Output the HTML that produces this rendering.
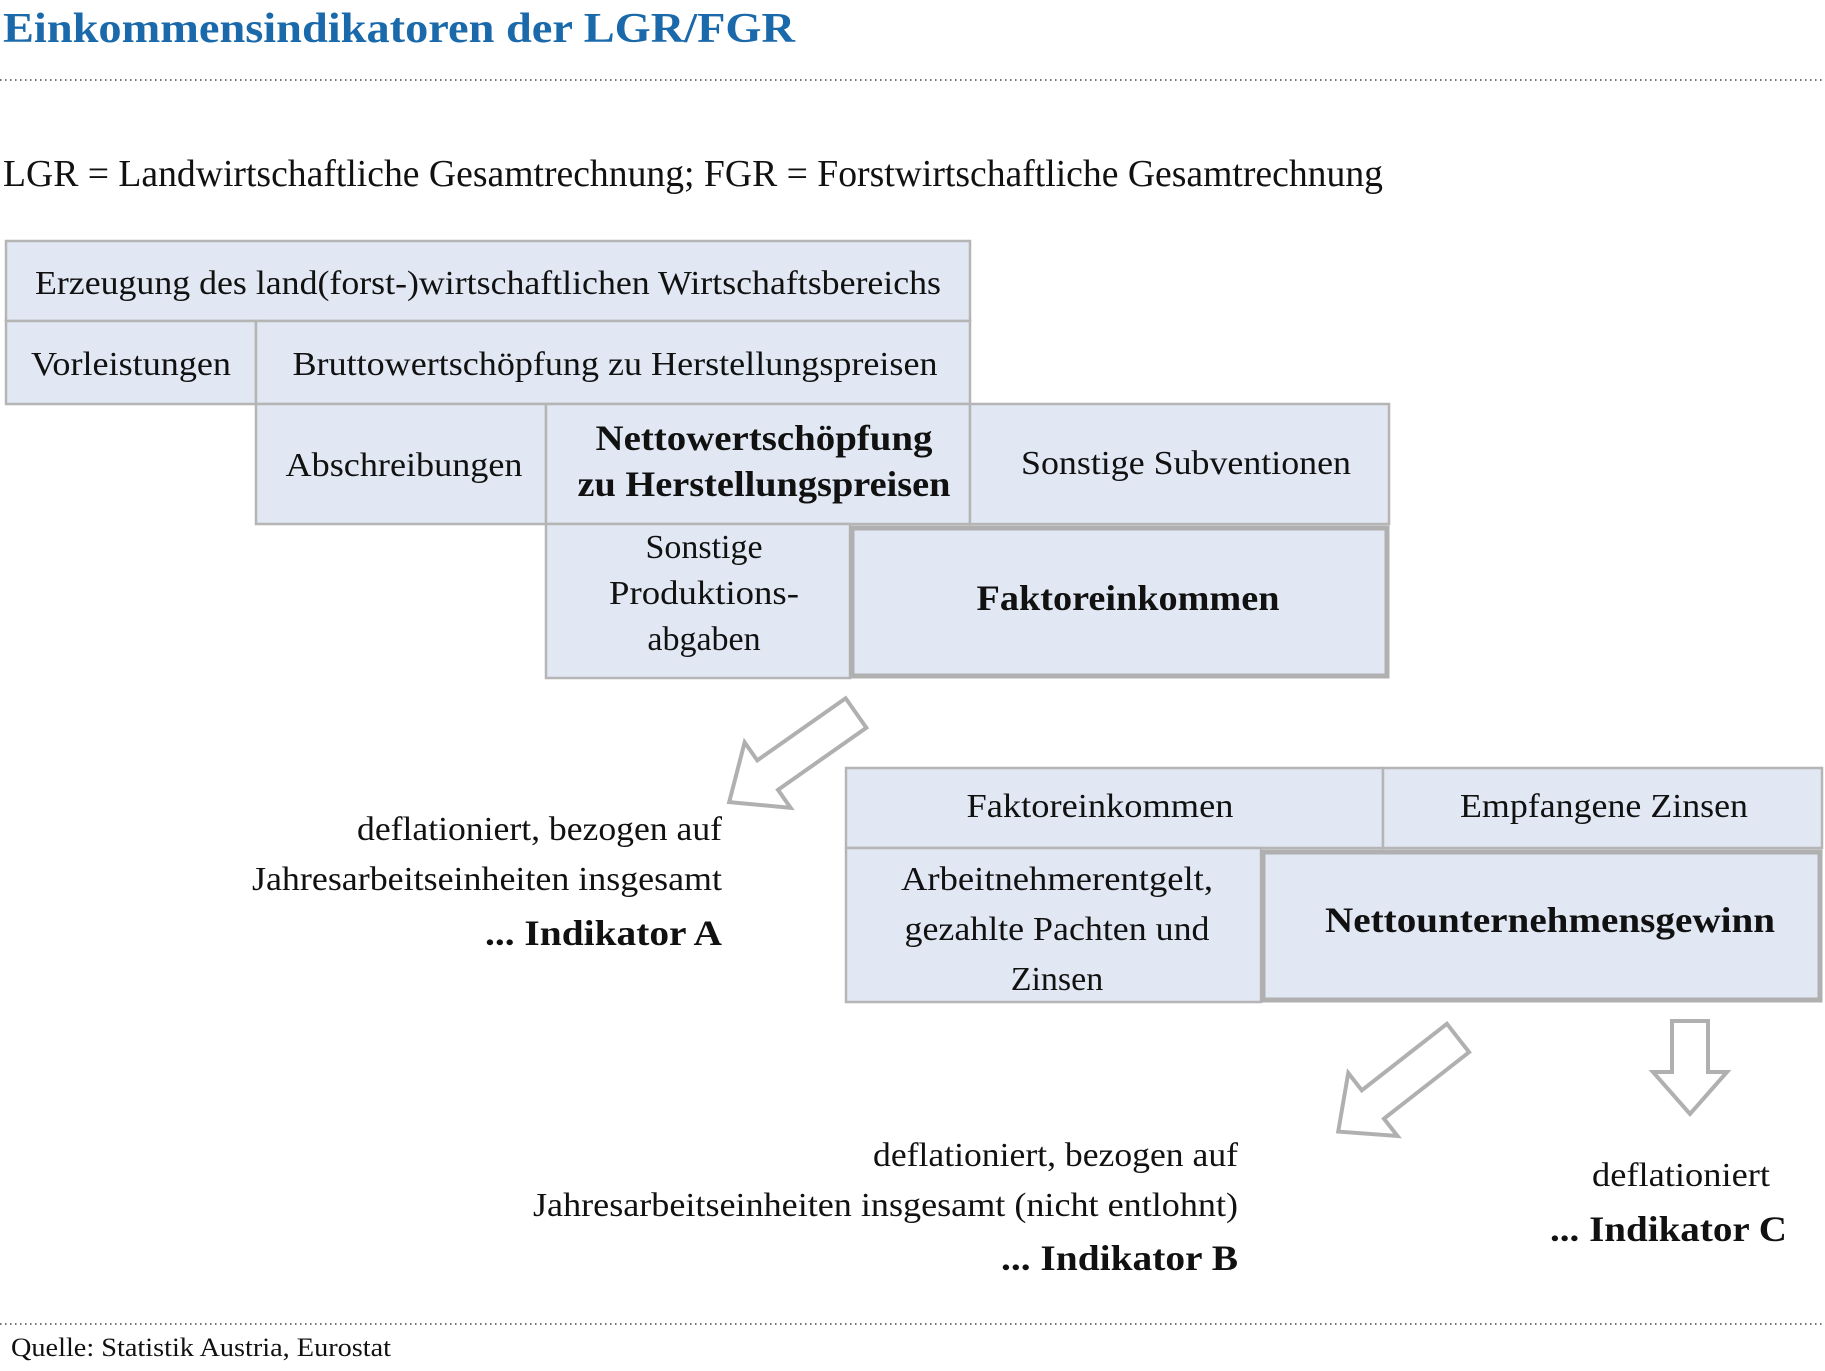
<!DOCTYPE html>
<html><head><meta charset="utf-8"><style>html,body{margin:0;padding:0;background:#fff}svg{display:block}</style></head>
<body>
<svg width="1825" height="1371" viewBox="0 0 1825 1371" xmlns="http://www.w3.org/2000/svg" font-family="'Liberation Serif', serif" fill="#111">
<text x="3" y="42" font-size="42" font-weight="bold" fill="#1a6aab" textLength="792" lengthAdjust="spacingAndGlyphs">Einkommensindikatoren der LGR/FGR</text>
<line x1="0" y1="80" x2="1825" y2="80" stroke="#444" stroke-width="1.5" stroke-dasharray="1.5,3.5"/>
<text x="3" y="186" font-size="38" textLength="1380" lengthAdjust="spacingAndGlyphs">LGR = Landwirtschaftliche Gesamtrechnung; FGR = Forstwirtschaftliche Gesamtrechnung</text>

<g fill="#e1e8f3" stroke="#b5b5b5" stroke-width="2.5">
<rect x="6" y="241" width="964" height="80"/>
<rect x="6" y="321" width="250" height="83"/>
<rect x="256" y="321" width="714" height="83"/>
<rect x="256" y="404" width="290" height="120"/>
<rect x="546" y="404" width="424" height="120"/>
<rect x="970" y="404" width="419" height="120"/>
<rect x="546" y="524" width="304" height="154"/>
<rect x="846" y="768" width="537" height="80"/>
<rect x="1383" y="768" width="439" height="80"/>
<rect x="846" y="848" width="415" height="154"/>
</g>
<g fill="#e1e8f3" stroke="#b0b0b0" stroke-width="5">
<rect x="852" y="528" width="535" height="148"/>
<rect x="1263" y="852" width="557" height="148"/>
</g>

<g font-size="34">
<text x="488" y="294" text-anchor="middle" textLength="906" lengthAdjust="spacingAndGlyphs">Erzeugung des land(forst-)wirtschaftlichen Wirtschaftsbereichs</text>
<text x="131" y="375" text-anchor="middle" textLength="200" lengthAdjust="spacingAndGlyphs">Vorleistungen</text>
<text x="615" y="375" text-anchor="middle" textLength="645" lengthAdjust="spacingAndGlyphs">Bruttowertschöpfung zu Herstellungspreisen</text>
<text x="404" y="476" text-anchor="middle" textLength="237" lengthAdjust="spacingAndGlyphs">Abschreibungen</text>
<text x="1186" y="474" text-anchor="middle" textLength="330" lengthAdjust="spacingAndGlyphs">Sonstige Subventionen</text>
<text x="704" y="558" text-anchor="middle">Sonstige</text>
<text x="704" y="604" text-anchor="middle" textLength="190" lengthAdjust="spacingAndGlyphs">Produktions-</text>
<text x="704" y="650" text-anchor="middle">abgaben</text>
<text x="1100" y="817" text-anchor="middle" textLength="267" lengthAdjust="spacingAndGlyphs">Faktoreinkommen</text>
<text x="1604" y="817" text-anchor="middle" textLength="288" lengthAdjust="spacingAndGlyphs">Empfangene Zinsen</text>
<text x="1057" y="890" text-anchor="middle" textLength="312" lengthAdjust="spacingAndGlyphs">Arbeitnehmerentgelt,</text>
<text x="1057" y="940" text-anchor="middle" textLength="305" lengthAdjust="spacingAndGlyphs">gezahlte Pachten und</text>
<text x="1057" y="990" text-anchor="middle">Zinsen</text>
<text x="722" y="840" text-anchor="end" textLength="365" lengthAdjust="spacingAndGlyphs">deflationiert, bezogen auf</text>
<text x="722" y="890" text-anchor="end" textLength="470" lengthAdjust="spacingAndGlyphs">Jahresarbeitseinheiten insgesamt</text>
<text x="1238" y="1166" text-anchor="end" textLength="365" lengthAdjust="spacingAndGlyphs">deflationiert, bezogen auf</text>
<text x="1238" y="1216" text-anchor="end" textLength="705" lengthAdjust="spacingAndGlyphs">Jahresarbeitseinheiten insgesamt (nicht entlohnt)</text>
<text x="1681" y="1186" text-anchor="middle" textLength="178" lengthAdjust="spacingAndGlyphs">deflationiert</text>
</g>
<g font-size="36" font-weight="bold">
<text x="764" y="450" text-anchor="middle" textLength="337" lengthAdjust="spacingAndGlyphs">Nettowertschöpfung</text>
<text x="764" y="496" text-anchor="middle" textLength="373" lengthAdjust="spacingAndGlyphs">zu Herstellungspreisen</text>
<text x="1128" y="610" text-anchor="middle" textLength="303" lengthAdjust="spacingAndGlyphs">Faktoreinkommen</text>
<text x="1550" y="932" text-anchor="middle" textLength="450" lengthAdjust="spacingAndGlyphs">Nettounternehmensgewinn</text>
<text x="722" y="945" text-anchor="end" textLength="237" lengthAdjust="spacingAndGlyphs">... Indikator A</text>
<text x="1238" y="1270" text-anchor="end" textLength="237" lengthAdjust="spacingAndGlyphs">... Indikator B</text>
<text x="1787" y="1241" text-anchor="end" textLength="237" lengthAdjust="spacingAndGlyphs">... Indikator C</text>
</g>

<g fill="#fff" stroke="#b0b0b0" stroke-width="4" stroke-linejoin="miter">
<polygon transform="translate(1690,1021)" points="-18,0 18,0 18,51 37,51 0,93 -37,51 -18,51"/>
<polygon transform="translate(856,713) rotate(54.9)" points="-18,0 18,0 18,108 40,108 0,155 -40,108 -18,108"/>
<polygon transform="translate(1458,1038) rotate(52)" points="-18,0 18,0 18,108 40,108 0,152 -40,108 -18,108"/>
</g>

<line x1="0" y1="1324" x2="1825" y2="1324" stroke="#444" stroke-width="1.5" stroke-dasharray="1.5,3.5"/>
<text x="11" y="1356" font-size="26" textLength="380" lengthAdjust="spacingAndGlyphs">Quelle: Statistik Austria, Eurostat</text>
</svg>
</body></html>
